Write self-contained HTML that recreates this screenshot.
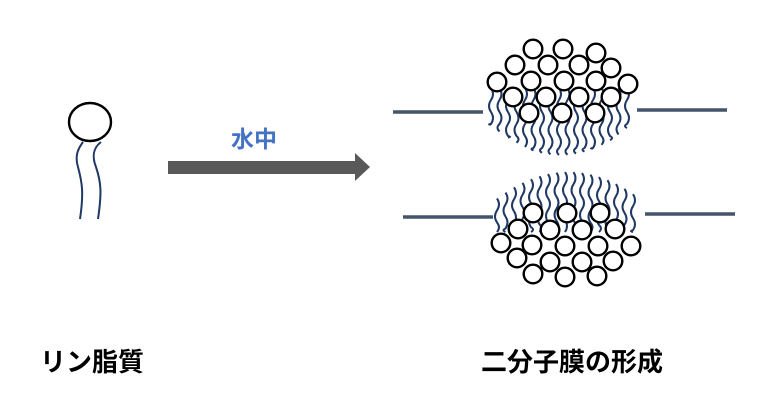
<!DOCTYPE html>
<html><head><meta charset="utf-8"><style>
body{margin:0;background:#fff;width:768px;height:420px;overflow:hidden}
svg{position:absolute;left:0;top:0}
.t{font-family:"Liberation Sans","Noto Sans CJK JP",sans-serif;font-weight:bold}
</style></head><body>
<svg id="s" width="768" height="420" viewBox="0 0 768 420">
<g fill="none" stroke="#1f3864" stroke-width="2" id="tails"></g>
<g id="circ" fill="#fff" stroke="#000" stroke-width="2.4"></g>
<ellipse cx="90" cy="122" rx="21" ry="19" fill="#fff" stroke="#000" stroke-width="2.4"/>
<path d="M83 142 c-6 8 -8 15 -5 25 c4 15 6 25 2 52" fill="none" stroke="#1f3864" stroke-width="2"/>
<path d="M101 142 c-8 6 -9 15 -5 25 c5 15 6 25 2 52" fill="none" stroke="#1f3864" stroke-width="2"/>
<rect x="168" y="161" width="190" height="13" fill="#595959"/>
<polygon points="355,153 370,167 355,181" fill="#595959"/>
<text x="231" y="147" class="t" font-size="23" fill="#4472c4">水中</text>
<g stroke="#44546a" stroke-width="3.5">
<line x1="393" y1="112" x2="483" y2="112"/><line x1="637" y1="110" x2="727" y2="110"/>
<line x1="403" y1="217" x2="493" y2="217"/><line x1="645" y1="214" x2="735" y2="214"/>
</g>
<text x="40" y="371" class="t" font-size="26" fill="#000">リン脂質</text>
<text x="481" y="371" class="t" font-size="26" fill="#000">二分子膜の形成</text>
</svg>
<script>
var NS="http://www.w3.org/2000/svg",tg=document.getElementById("tails"),cg=document.getElementById("circ");
function wave(x,y1,y2){var d="M"+x+" "+y1,y=y1,s=1;while(y<y2){var h=Math.min(12,y2-y);d+=" q"+(4*s)+" "+(h/2)+" 0 "+h;y+=h;s=-s;}var p=document.createElementNS(NS,"path");p.setAttribute("d",d);tg.appendChild(p);}
for(var x=491;x<=632;x+=8.5){var c=(x-561)/73;var e=1-c*c;wave(x,88,122+33*e);}
for(var x=497;x<=640;x+=8.5){var c=(x-568)/73;var e=1-c*c;wave(x,200-28*e,232);}
var C=[[533,49],[563,49],[596,53],[515,65],[548,65],[579,65],[611,68],[497,82],[531,81],[564,81],[596,81],[628,84],[513,97],[546,97],[579,97],[611,97],[529,113],[562,113],[595,113],
[533,213],[567,213],[600,213],[518,229],[550,230],[582,230],[615,229],[501,243],[532,245],[565,246],[598,246],[631,246],[517,258],[550,262],[582,262],[613,261],[533,274],[565,277],[597,276]];
C.forEach(function(p){var e=document.createElementNS(NS,"circle");e.setAttribute("cx",p[0]);e.setAttribute("cy",p[1]);e.setAttribute("r",9.3);cg.appendChild(e);});
</script>
</body></html>
